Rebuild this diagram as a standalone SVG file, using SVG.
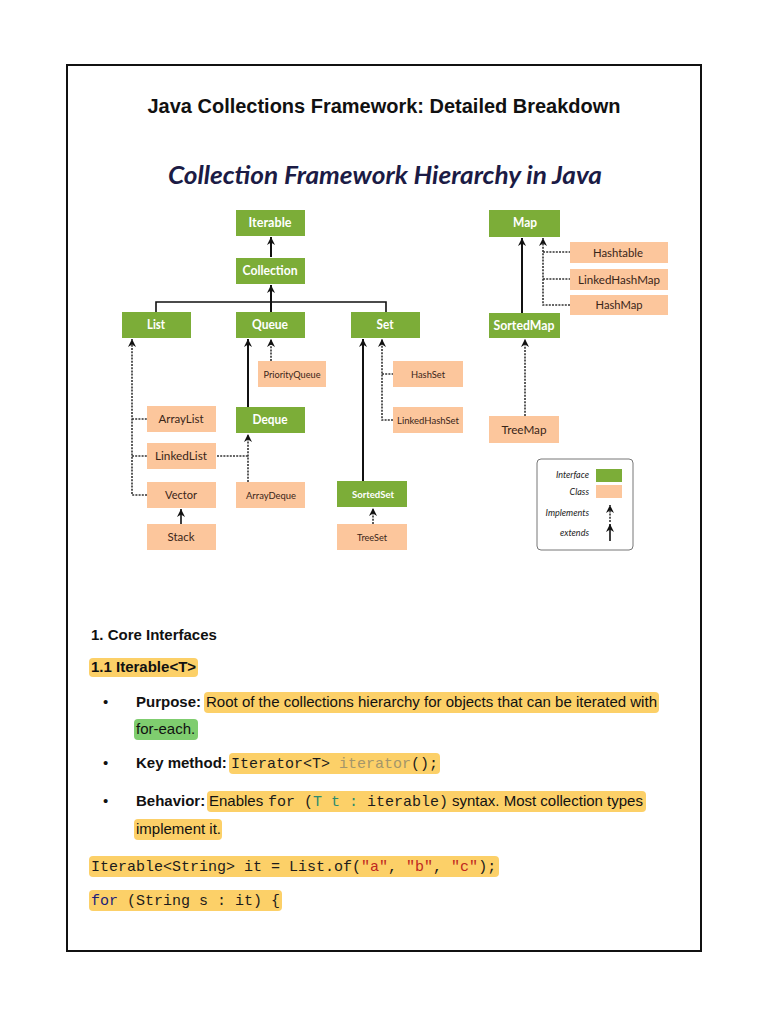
<svg xmlns="http://www.w3.org/2000/svg" width="768" height="1024" viewBox="0 0 768 1024">
<style>
.ifc{fill:#7cad38}
.cls{fill:#fcc69c}
.gl{font-family:Lato,"Noto Sans",sans-serif;font-size:12.5px;font-weight:bold;fill:#fff;text-anchor:middle}
.ol{font-family:Lato,"Noto Sans",sans-serif;font-size:12px;fill:#3a2518;text-anchor:middle}
.sm{font-size:10px}
.solid{stroke:#111;stroke-width:2;fill:none}
.thin{stroke:#111;stroke-width:1.6;fill:none}
.dot{stroke:#333;stroke-width:1.6;stroke-dasharray:2 1.2;fill:none}
.body{font-family:"Liberation Sans",Arial,sans-serif;font-size:15px;fill:#111}
.b{font-weight:bold}
.mono{font-family:"Liberation Mono","DejaVu Sans Mono",monospace;font-size:15px;fill:#1c1c1c}
.hl{fill:#fcd068}
.lg{font-family:Lato,"Noto Sans",sans-serif;font-size:9px;font-style:italic;fill:#222;text-anchor:end}
.str{fill:#c0281f}
.kw{fill:#1e1e7a}
.tl{fill:#2e8b6e}
.mt{fill:#a4966a}
</style>
<defs>
<marker id="a" viewBox="0 0 10 10" refX="10" refY="5" markerWidth="8" markerHeight="10" markerUnits="userSpaceOnUse" orient="auto">
<path d="M0,0 L10,5 L0,10 L3,5 Z" fill="#111"/>
</marker>
</defs>
<rect x="0" y="0" width="768" height="1024" fill="#fff"/>
<rect x="67" y="65" width="634" height="886" fill="none" stroke="#111" stroke-width="2"/>

<text x="384" y="113" text-anchor="middle" font-family="'Liberation Sans',Arial,sans-serif" font-size="20" font-weight="bold" fill="#111" textLength="473" lengthAdjust="spacingAndGlyphs">Java Collections Framework: Detailed Breakdown</text>
<text x="168" y="184" font-family="Lato,'Noto Sans',sans-serif" font-size="24" font-weight="bold" font-style="italic" fill="#1b1b45" textLength="434" lengthAdjust="spacingAndGlyphs">Collection Framework Hierarchy in Java</text>

<g id="connectors">
<path class="solid" d="M271,257 V237" marker-end="url(#a)"/>
<path class="thin" d="M156,312 V302 H386 V312"/>
<path class="solid" d="M271,312 V285" marker-end="url(#a)"/>
<path class="solid" d="M248,407 V339" marker-end="url(#a)"/>
<path class="dot" d="M271,361 V339" marker-end="url(#a)"/>
<path class="dot" d="M248,482 V434" marker-end="url(#a)"/>
<path class="dot" d="M217,456 H248"/>
<path class="dot" d="M147,495 H132 V339" marker-end="url(#a)"/>
<path class="dot" d="M132,419 H147 M132,456 H147"/>
<path class="thin" d="M181,524 V509" marker-end="url(#a)"/>
<path class="solid" d="M363,481 V339" marker-end="url(#a)"/>
<path class="dot" d="M393,420 H382 V339" marker-end="url(#a)"/>
<path class="dot" d="M382,374 H393"/>
<path class="dot" d="M373,524 V508" marker-end="url(#a)"/>
<path class="solid" d="M522,313 V238" marker-end="url(#a)"/>
<path class="dot" d="M570,305 H543 V238" marker-end="url(#a)"/>
<path class="dot" d="M543,252 H570 M543,279 H570"/>
<path class="dot" d="M525,416 V339" marker-end="url(#a)"/>
</g>

<g id="n-iterable"><rect class="ifc" x="236" y="210" width="69" height="26"/><text class="gl" x="270" y="227" textLength="43" lengthAdjust="spacingAndGlyphs">Iterable</text></g>
<g id="n-collection"><rect class="ifc" x="236" y="258" width="69" height="26"/><text class="gl" x="270" y="275" textLength="55" lengthAdjust="spacingAndGlyphs">Collection</text></g>
<g id="n-list"><rect class="ifc" x="122" y="312" width="69" height="26"/><text class="gl" x="156" y="329" textLength="18" lengthAdjust="spacingAndGlyphs">List</text></g>
<g id="n-queue"><rect class="ifc" x="236" y="312" width="69" height="26"/><text class="gl" x="270" y="329" textLength="36" lengthAdjust="spacingAndGlyphs">Queue</text></g>
<g id="n-set"><rect class="ifc" x="351" y="312" width="69" height="26"/><text class="gl" x="385" y="329" textLength="17" lengthAdjust="spacingAndGlyphs">Set</text></g>
<g id="n-map"><rect class="ifc" x="489" y="210" width="71" height="27"/><text class="gl" x="525" y="227" textLength="24" lengthAdjust="spacingAndGlyphs">Map</text></g>
<g id="n-hashtable"><rect class="cls" x="570" y="242" width="98" height="21"/><text class="ol" x="618" y="257" textLength="50" lengthAdjust="spacingAndGlyphs">Hashtable</text></g>
<g id="n-linkedhashmap"><rect class="cls" x="570" y="269" width="98" height="21"/><text class="ol" x="619" y="284" textLength="82" lengthAdjust="spacingAndGlyphs">LinkedHashMap</text></g>
<g id="n-hashmap"><rect class="cls" x="570" y="295" width="98" height="20"/><text class="ol" x="619" y="309" textLength="47" lengthAdjust="spacingAndGlyphs">HashMap</text></g>
<g id="n-sortedmap"><rect class="ifc" x="489" y="313" width="71" height="25"/><text class="gl" x="524" y="330" textLength="61" lengthAdjust="spacingAndGlyphs">SortedMap</text></g>
<g id="n-treemap"><rect class="cls" x="489" y="416" width="70" height="27"/><text class="ol" x="524" y="434" textLength="45" lengthAdjust="spacingAndGlyphs">TreeMap</text></g>
<g id="n-priorityqueue"><rect class="cls" x="258" y="361" width="68" height="26"/><text class="ol sm" x="292" y="378" textLength="57" lengthAdjust="spacingAndGlyphs">PriorityQueue</text></g>
<g id="n-deque"><rect class="ifc" x="236" y="407" width="69" height="26"/><text class="gl" x="270" y="424" textLength="35" lengthAdjust="spacingAndGlyphs">Deque</text></g>
<g id="n-arraydeque"><rect class="cls" x="236" y="482" width="69" height="26"/><text class="ol sm" x="271" y="499" textLength="50" lengthAdjust="spacingAndGlyphs">ArrayDeque</text></g>
<g id="n-arraylist"><rect class="cls" x="147" y="406" width="69" height="26"/><text class="ol" x="181" y="423" textLength="45" lengthAdjust="spacingAndGlyphs">ArrayList</text></g>
<g id="n-linkedlist"><rect class="cls" x="147" y="443" width="69" height="26"/><text class="ol" x="181" y="460" textLength="52" lengthAdjust="spacingAndGlyphs">LinkedList</text></g>
<g id="n-vector"><rect class="cls" x="147" y="482" width="69" height="26"/><text class="ol" x="181" y="499" textLength="32" lengthAdjust="spacingAndGlyphs">Vector</text></g>
<g id="n-stack"><rect class="cls" x="147" y="524" width="69" height="26"/><text class="ol" x="181" y="541" textLength="27" lengthAdjust="spacingAndGlyphs">Stack</text></g>
<g id="n-hashset"><rect class="cls" x="393" y="361" width="70" height="26"/><text class="ol sm" x="428" y="378" textLength="34" lengthAdjust="spacingAndGlyphs">HashSet</text></g>
<g id="n-linkedhashset"><rect class="cls" x="393" y="407" width="70" height="26"/><text class="ol sm" x="428" y="424" textLength="62" lengthAdjust="spacingAndGlyphs">LinkedHashSet</text></g>
<g id="n-sortedset"><rect class="ifc" x="337" y="481" width="70" height="26"/><text class="gl sm" x="373" y="498" font-weight="normal" textLength="42" lengthAdjust="spacingAndGlyphs">SortedSet</text></g>
<g id="n-treeset"><rect class="cls" x="337" y="524" width="70" height="26"/><text class="ol sm" x="372" y="541" textLength="30" lengthAdjust="spacingAndGlyphs">TreeSet</text></g>

<g id="legend">
<rect x="537" y="459" width="96" height="91" rx="4" fill="#fff" stroke="#777" stroke-width="1"/>
<text class="lg" x="589" y="478">Interface</text>
<rect class="ifc" x="596" y="469" width="26" height="13"/>
<text class="lg" x="589" y="495">Class</text>
<rect class="cls" x="596" y="485" width="26" height="13"/>
<text class="lg" x="589" y="516">Implements</text>
<path class="dot" d="M610,522 V505" stroke-width="1.3" marker-end="url(#a)"/>
<text class="lg" x="589" y="536">extends</text>
<path class="thin" d="M610,541 V524" stroke-width="1.3" marker-end="url(#a)"/>
</g>

<g id="text-section">
<text class="body b" x="91" y="640">1. Core Interfaces</text>
<rect class="hl" x="89" y="658" width="109" height="19" rx="4"/>
<text class="body b" x="91" y="672">1.1 Iterable&lt;T&gt;</text>

<text class="body" x="103" y="707">•</text>
<text class="body b" x="136" y="707">Purpose:</text>
<rect class="hl" x="204" y="692" width="455" height="21" rx="4"/>
<text class="body" x="206" y="707" textLength="451" lengthAdjust="spacingAndGlyphs">Root of the collections hierarchy for objects that can be iterated with</text>
<rect x="134" y="719" width="64" height="21" rx="4" fill="#7fcd6f"/>
<text class="body" x="136" y="734">for-each.</text>

<text class="body" x="103" y="768">•</text>
<text class="body b" x="136" y="768">Key method:</text>
<rect class="hl" x="229" y="753" width="211" height="21" rx="4"/>
<text class="mono" x="231" y="768">Iterator&lt;T&gt; <tspan class="mt">iterator</tspan>();</text>

<text class="body" x="103" y="806">•</text>
<text class="body b" x="136" y="806">Behavior:</text>
<rect class="hl" x="207" y="791" width="439" height="21" rx="4"/>
<text class="body" x="209" y="806">Enables</text>
<text class="mono" x="268" y="806">for (<tspan class="tl">T t :</tspan> iterable)</text>
<text class="body" x="452" y="806">syntax. Most collection types</text>
<rect class="hl" x="134" y="819" width="88" height="21" rx="4"/>
<text class="body" x="136" y="834">implement it.</text>

<rect class="hl" x="89" y="856" width="410" height="21" rx="4"/>
<text class="mono" x="91" y="871">Iterable&lt;String&gt; it = List.of(<tspan class="str">"a"</tspan>, <tspan class="str">"b"</tspan>, <tspan class="str">"c"</tspan>);</text>
<rect class="hl" x="89" y="890" width="193" height="21" rx="4"/>
<text class="mono" x="91" y="905"><tspan class="kw">for</tspan> (String s : it) {</text>
</g>
</svg>
